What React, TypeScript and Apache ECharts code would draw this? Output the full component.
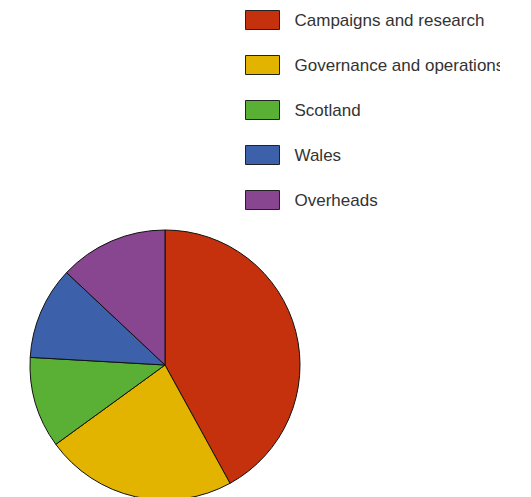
import React, { useEffect, useRef } from "react";
import * as echarts from "echarts";

const categories = [
  "Campaigns and research",
  "Governance and operations",
  "Scotland",
  "Wales",
  "Overheads",
];
const values = [42.0, 23.0, 10.9, 11.1, 13.0];
const colors = ["#C5300D", "#E2B400", "#5AB034", "#3C60AA", "#884590"];

export default function App() {
  const ref = useRef<HTMLDivElement>(null);
  useEffect(() => {
    if (!ref.current) return;
    const chart = echarts.init(ref.current, undefined, { renderer: "svg" });
    chart.setOption({
      animation: false,
      color: colors,
      legend: {
        orient: "vertical",
        left: 245,
        top: 10,
        padding: 0,
        itemWidth: 34,
        itemHeight: 19,
        itemGap: 25,
        icon: "rect",
        selectedMode: false,
        data: categories,
        itemStyle: { borderColor: "#222", borderWidth: 1 },
        textStyle: {
          fontFamily: "Liberation Sans, Arial, sans-serif",
          fontSize: 17,
          color: "#333",
          padding: [0, 0, 0, 10],
        },
      },
      series: [
        {
          type: "pie",
          center: [165, 365],
          radius: 135,
          startAngle: 90,
          clockwise: true,
          label: { show: false },
          labelLine: { show: false },
          emphasis: { disabled: true },
          itemStyle: { borderColor: "#111", borderWidth: 1 },
          data: categories.map((name, i) => ({ name, value: values[i] })),
        },
      ],
    });
    return () => chart.dispose();
  }, []);
  return (
    <div style={{ position: "fixed", left: 0, top: 0, width: 531, height: 497, background: "#fff" }}>
      <div ref={ref} style={{ width: 500, height: 497, overflow: "hidden" }} />
    </div>
  );
}
